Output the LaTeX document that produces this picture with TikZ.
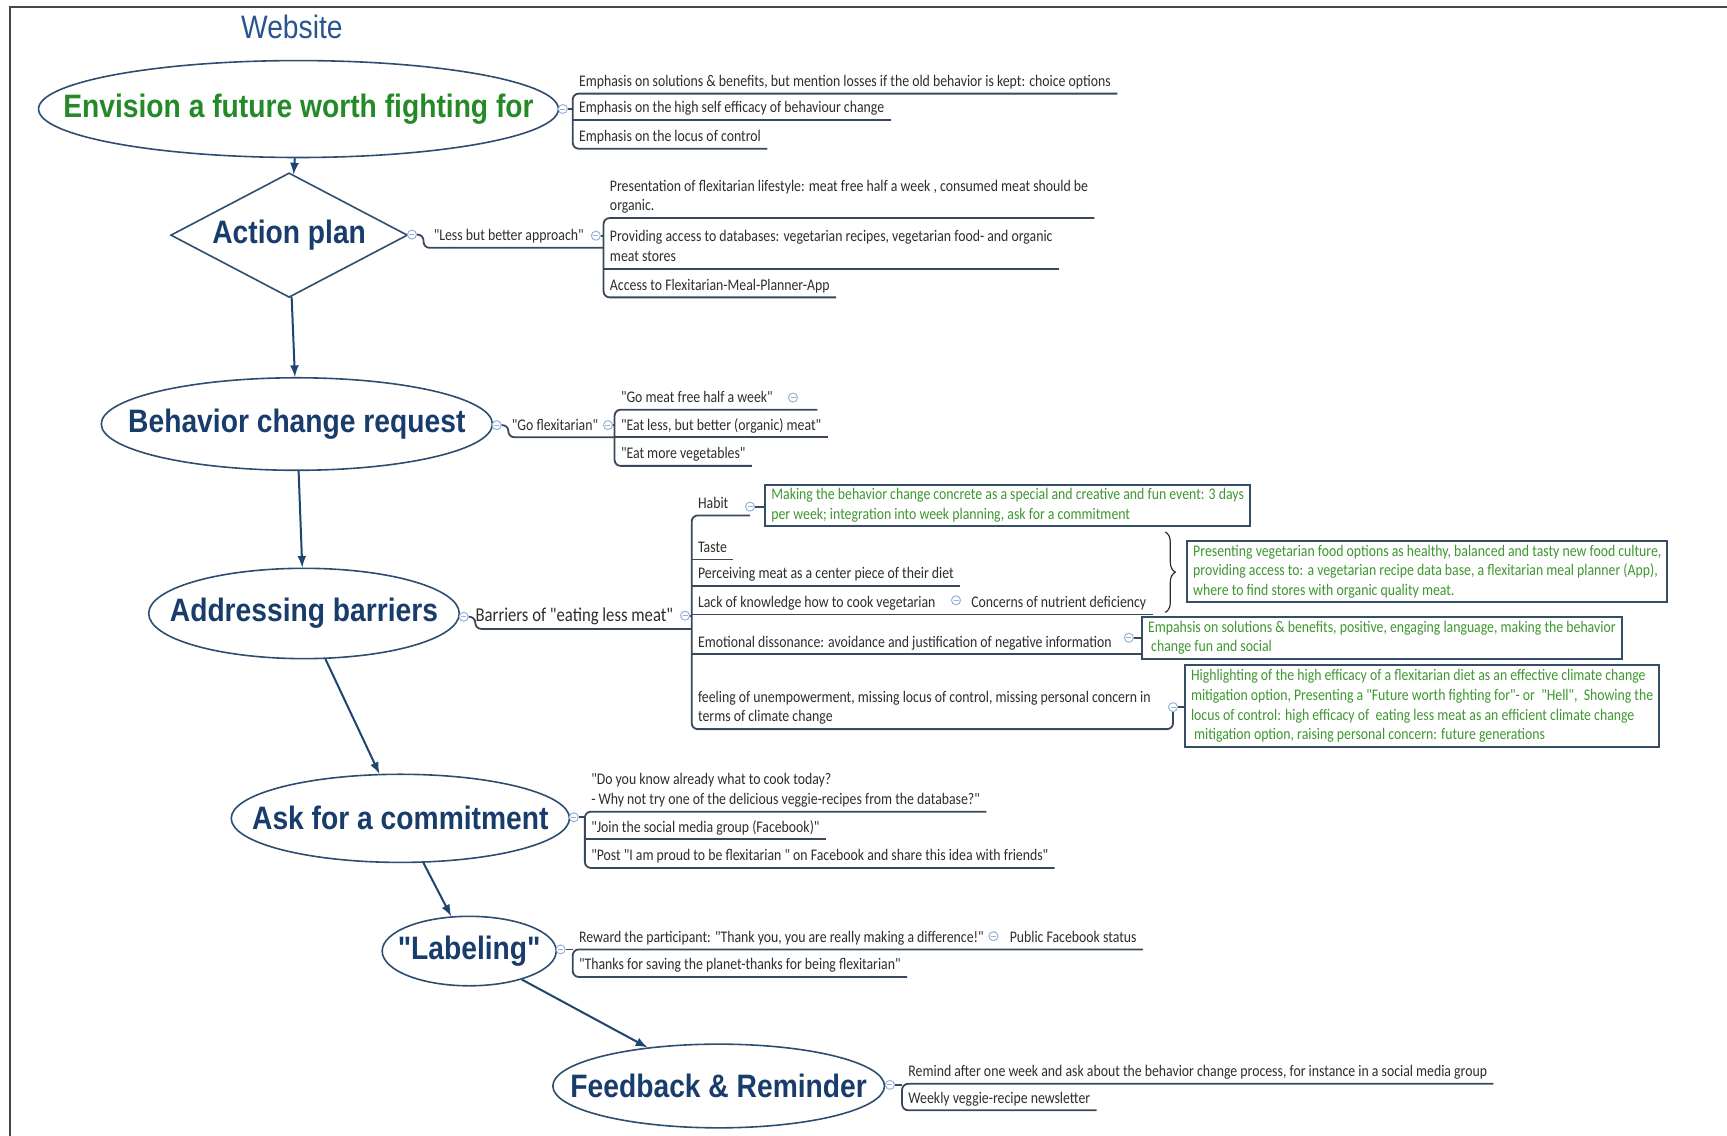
\documentclass[tikz,border=0pt]{standalone}
\usepackage{fontspec}
\usetikzlibrary{shapes.geometric,arrows.meta,decorations.pathreplacing,positioning}
\newfontfamily\headfont[FakeStretch=0.87]{Liberation Sans}
\newfontfamily\smallfont[FakeStretch=0.85]{Carlito}
\newcommand{\itemfont}{\smallfont\fontsize{8.1}{9.9}\selectfont}
\newcommand{\headsize}{\headfont\bfseries\fontsize{16.2}{19}\selectfont}
\newcommand{\nowide}[1]{\makebox[0pt]{#1}}
\definecolor{headblue}{RGB}{24,60,108}
\definecolor{headgreen}{RGB}{36,138,40}
\definecolor{webblue}{RGB}{40,85,140}
\definecolor{rimblue}{RGB}{45,78,112}
\definecolor{flowblue}{RGB}{30,68,112}
\definecolor{linegray}{RGB}{58,72,92}
\definecolor{txtgray}{RGB}{45,45,45}
\definecolor{boxgreen}{RGB}{62,150,48}
\definecolor{boxrim}{RGB}{52,78,104}
\definecolor{dotblue}{RGB}{150,178,220}
\definecolor{framegray}{RGB}{70,70,70}
\tikzset{
    mainnode/.style={ellipse, draw=rimblue, line width=0.8pt, inner sep=0pt, text=headblue, font=\headsize},
    flow/.style={-latex, line width=1pt, flowblue},
    branch/.style={line width=0.9pt, linegray},
    item/.style={anchor=south west, inner xsep=3pt, inner ysep=2pt, align=left, font=\itemfont, text=txtgray, execute at end node={\vphantom{gy}}},
    gbox/.style={draw=boxrim, line width=1pt, anchor=west, inner xsep=3pt, inner ysep=2pt, align=left, font=\itemfont, text=boxgreen},
    dot/.style={circle, draw=dotblue, fill=white, line width=0.5pt, minimum size=4.5pt, inner sep=0pt,
        path picture={\draw[dotblue, line width=0.4pt] ([xshift=1pt]path picture bounding box.west) -- ([xshift=-1pt]path picture bounding box.east);}}
}
\begin{document}
\begin{tikzpicture}[x=0.55pt, y=-0.55pt]
\useasboundingbox (0,0) rectangle (1568,1031.4);
\draw[line width=1pt, framegray] (9,1040) -- (9,6) -- (1580,6); % frame
\node[font=\headfont\fontsize{16.2}{19}\selectfont, text=webblue] (web) at (265,24) {Website};

% main steps
\node[mainnode, text=headgreen, minimum width=259.6pt, minimum height=48.4pt] (env) at (271,99) {\nowide{Envision a future worth fighting for}};
\node[diamond, draw=rimblue, line width=0.8pt, inner sep=0pt, text=headblue, font=\headsize, minimum width=118.3pt, minimum height=62.2pt] (plan) at (262.5,213.5) {\nowide{Action plan}};
\node[mainnode, minimum width=195.3pt, minimum height=46.2pt] (req) at (269.5,385) {\nowide{Behavior change request}};
\node[mainnode, minimum width=155.1pt, minimum height=45.1pt] (bar) at (276,557) {\nowide{Addressing barriers}};
\node[mainnode, minimum width=168.9pt, minimum height=44pt] (ask) at (363.5,743) {\nowide{Ask for a commitment}};
\node[mainnode, minimum width=86.9pt, minimum height=34.7pt] (lab) at (426,863.5) {\nowide{"Labeling"}};
\node[mainnode, minimum width=165.6pt, minimum height=41.8pt] (fb) at (652.5,986) {\nowide{Feedback \& Reminder}};
\draw[flow] (env) -- (plan);
\draw[flow] (plan) -- (req);
\draw[flow] (req) -- (bar);
\draw[flow] (bar) -- (ask);
\draw[flow] (ask) -- (lab);
\draw[flow] (lab) -- (fb);

% envision branches
\node[dot] (ma) at (511,99) {};
\node[item] (a1) at (520,85) {Emphasis on solutions \& benefits, but mention losses if the old behavior is kept: choice options};
\node[item] (a2) at (520,109) {Emphasis on the high self efficacy of behaviour change};
\node[item] (a3) at (520,135) {Emphasis on the locus of control};
\draw[branch, rounded corners=3pt] (a1.south east) -- (a1.south west) -- (a3.south west) -- (a3.south east); % bracket
\draw[branch] (a2.south west) -- (a2.south east);
\draw[branch] (ma) -- (ma -| a2.west);

% action plan branches
\node[dot] (mb) at (374,213) {};
\node[item] (lb) at (388,225) {"Less but better approach"};
\node[dot] (mb2) at (541,214) {};
\coordinate (kb) at (548,225);
\draw[branch, rounded corners=3pt] (mb.east) -- ++(6,0) |- (kb);
\node[item] (b1) at (548,198) {Presentation of flexitarian lifestyle: meat free half a week , consumed meat should be\\organic.};
\node[item] (b2) at (548,244) {Providing access to databases: vegetarian recipes, vegetarian food- and organic\\meat stores};
\node[item] (b3) at (548,270) {Access to Flexitarian-Meal-Planner-App};
\draw[branch, rounded corners=3pt] (b1.south east) -- (b1.south west) -- (b3.south west) -- (b3.south east); % bracket
\draw[branch] (b2.south west) -- (b2.south east);
\draw[branch] (mb2) -- (mb2 -| b2.west);

% request branches
\node[dot] (mc) at (451,386) {};
\node[item] (gf) at (459,397) {"Go flexitarian"};
\node[dot] (mc2) at (552,386) {};
\coordinate (kc) at (558,397);
\draw[branch, rounded corners=3pt] (mc.east) -- ++(6,0) |- (kc);
\node[item] (c1) at (558,372) {"Go meat free half a week"};
\node[dot] (mc1) at (720,361) {};
\coordinate (c1end) at (742,372);
\node[item] (c2) at (558,397) {"Eat less, but better (organic) meat"};
\node[item] (c3) at (558,423) {"Eat more vegetables"};
\draw[branch, rounded corners=3pt] (c1end) -- (c1.south west) -- (c3.south west) -- (c3.south east); % bracket
\draw[branch] (c2.south west) -- (c2.south east);
\draw[branch] (mc2) -- (mc2 -| c2.west);

% barriers branches
\node[dot] (md) at (421,560) {};
\node[item, font=\smallfont\fontsize{9.8}{11}\selectfont] (bl) at (426,571) {Barriers of "eating less meat"};
\node[dot] (md2) at (622,559) {};
\coordinate (kd) at (628,571);
\draw[branch, rounded corners=3pt] (md.east) -- ++(6,0) |- (kd);
\node[item] (d1) at (628,468) {Habit};
\node[dot] (md1) at (681,460) {};
\node[gbox] (g1) at (694,459) {Making the behavior change concrete as a special and creative and fun event: 3 days\\per week; integration into week planning, ask for a commitment};
\node[item] (d2) at (628,508) {Taste};
\node[item] (d3) at (628,532) {Perceiving meat as a center piece of their diet};
\node[item] (d4) at (628,558) {Lack of knowledge how to cook vegetarian};
\node[dot] (md4) at (868,545) {};
\node[item] (d4b) at (876,558) {Concerns of nutrient deficiency};
\coordinate (brt) at (1058,483);
\coordinate (brb) at (1058,556);
\draw[decorate, decoration={brace, amplitude=5pt}, line width=0.6pt, txtgray] (brt) -- (brb); % brace
\node[gbox] (g2) at (1077,519) {Presenting vegetarian food options as healthy, balanced and tasty new food culture,\\providing access to: a vegetarian recipe data base, a flexitarian meal planner (App),\\where to find stores with organic quality meat.};
\node[item] (d5) at (628,594) {Emotional dissonance: avoidance and justification of negative information};
\node[dot] (md5) at (1025,579) {};
\node[gbox] (g3) at (1036,579) {Empahsis on solutions \& benefits, positive, engaging language, making the behavior\\\ change fun and social};
\node[item] (d6) at (628,662) {feeling of unempowerment, missing locus of control, missing personal concern in\\terms of climate change};
\node[dot] (md6) at (1065,642) {};
\node[gbox] (g4) at (1075,641) {Highlighting of the high efficacy of a flexitarian diet as an effective climate change\\mitigation option, Presenting a "Future worth fighting for"- or \ "Hell", \ Showing the\\locus of control: high efficacy of \ eating less meat as an efficient climate change\\\ mitigation option, raising personal concern: future generations};
\draw[branch, rounded corners=3pt] (md1.south |- d1.south) -- (d1.south west) -- (d6.south west) -- (d6.south -| md6) -- (md6.south); % bracket
\draw[branch] (d2.south west) -- (d2.south east);
\draw[branch] (d3.south west) -- (d3.south east);
\draw[branch] (d4.south west) -- (d4b.south east);
\draw[branch] (d5.south west) -- (d5.south -| g3.west);
\draw[branch] (md2) -- (md2 -| d4.west);
\draw[branch] (md1) -- (md1 -| g1.west);
\draw[branch] (md5) -- (md5 -| g3.west);
\draw[branch] (md6) -- (md6 -| g4.west);

% commitment branches
\node[dot] (me) at (521,742) {};
\node[item] (e1) at (531,737) {"Do you know already what to cook today?\\- Why not try one of the delicious veggie-recipes from the database?"};
\node[item] (e2) at (531,762) {"Join the social media group (Facebook)"};
\node[item] (e3) at (531,788) {"Post "I am proud to be flexitarian " on Facebook and share this idea with friends"};
\draw[branch, rounded corners=3pt] (e1.south east) -- (e1.south west) -- (e3.south west) -- (e3.south east); % bracket
\draw[branch] (e2.south west) -- (e2.south east);
\draw[branch] (me) -- (me -| e2.west);

% labeling branches
\node[dot] (mf) at (509,862) {};
\node[item] (f1) at (520,862) {Reward the participant: "Thank you, you are really making a difference!"};
\node[dot] (mf1) at (902,850) {};
\node[item] (f1b) at (911,862) {Public Facebook status};
\node[item] (f2) at (520,887) {"Thanks for saving the planet-thanks for being flexitarian"};
\draw[branch, rounded corners=3pt] (f1b.south east) -- (f1.south west) -- (f2.south west) -- (f2.south east); % bracket
\draw[branch] (mf) -- (mf -| f1.west);

% feedback branches
\node[dot] (mg) at (808,985) {};
\node[item] (h1) at (819,984) {Remind after one week and ask about the behavior change process, for instance in a social media group};
\node[item] (h2) at (819,1008) {Weekly veggie-recipe newsletter};
\draw[branch, rounded corners=3pt] (h1.south east) -- (h1.south west) -- (h2.south west) -- (h2.south east); % bracket
\draw[branch] (mg) -- (mg -| h1.west);
\end{tikzpicture}
\end{document}
